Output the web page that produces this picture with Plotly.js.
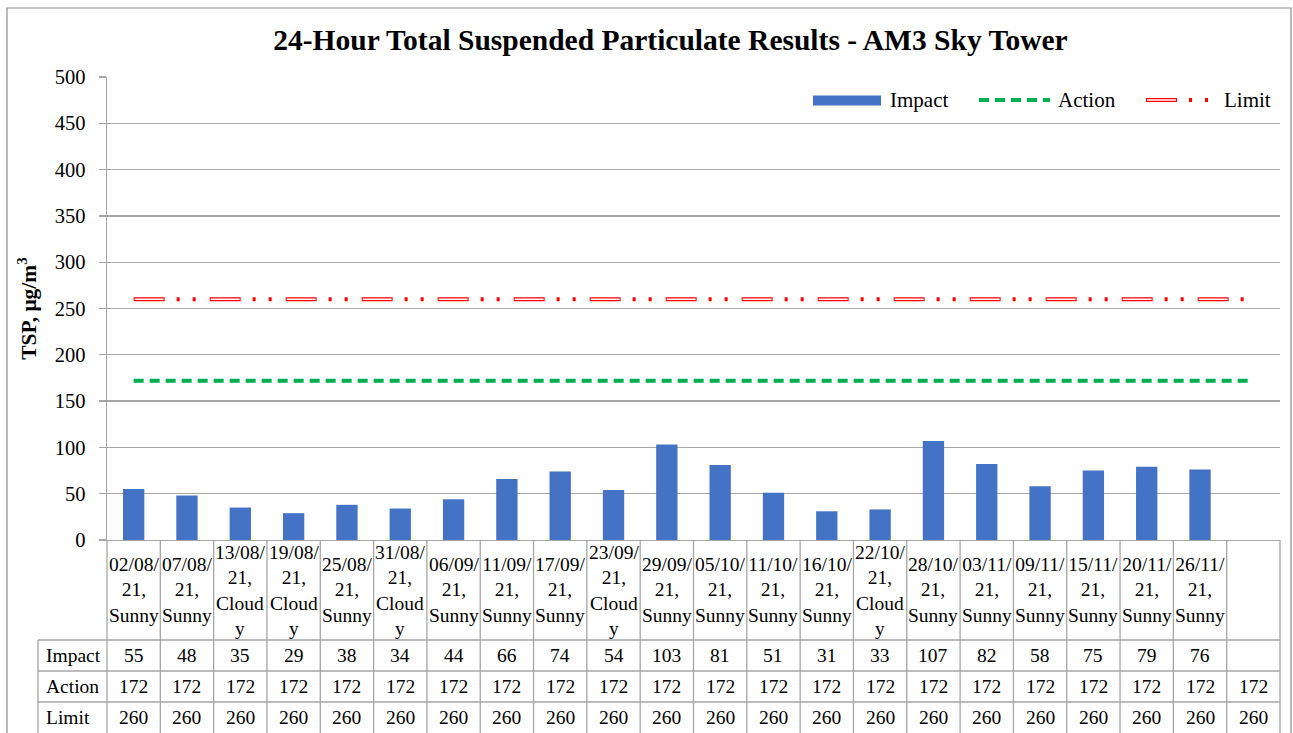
<!DOCTYPE html>
<html>
<head>
<meta charset="utf-8">
<script src="https://cdn.plot.ly/plotly-3.0.1.min.js"></script>
<style>
  html, body { margin: 0; padding: 0; background: #ffffff; }
  #chart { width: 1293px; height: 733px; }
</style>
</head>
<body>
<div id="chart"></div>
<script>
// ---------------- DATA ----------------
const categories = [
  '02/08/21, Sunny', '07/08/21, Sunny', '13/08/21, Cloudy', '19/08/21, Cloudy',
  '25/08/21, Sunny', '31/08/21, Cloudy', '06/09/21, Sunny', '11/09/21, Sunny',
  '17/09/21, Sunny', '23/09/21, Cloudy', '29/09/21, Sunny', '05/10/21, Sunny',
  '11/10/21, Sunny', '16/10/21, Sunny', '22/10/21, Cloudy', '28/10/21, Sunny',
  '03/11/21, Sunny', '09/11/21, Sunny', '15/11/21, Sunny', '20/11/21, Sunny',
  '26/11/21, Sunny', ''
];
const impact = [55, 48, 35, 29, 38, 34, 44, 66, 74, 54, 103, 81, 51, 31, 33, 107, 82, 58, 75, 79, 76, null];
const action = [172, 172, 172, 172, 172, 172, 172, 172, 172, 172, 172, 172, 172, 172, 172, 172, 172, 172, 172, 172, 172, 172];
const limit  = [260, 260, 260, 260, 260, 260, 260, 260, 260, 260, 260, 260, 260, 260, 260, 260, 260, 260, 260, 260, 260, 260];
const seriesNames = ['Impact', 'Action', 'Limit'];
const yTicks = [0, 50, 100, 150, 200, 250, 300, 350, 400, 450, 500];
const chartTitle = '24-Hour Total Suspended Particulate Results - AM3 Sky Tower';
const yTitle = 'TSP, μg/m<sup>3</sup>';

// ---------------- STYLE / LAYOUT ----------------
const W = 1293, H = 733;
const M = { l: 107, r: 13, t: 77, b: 193 };
const plotW = W - M.l - M.r, plotH = H - M.t - M.b;
const px2x = px => (px - M.l) / plotW;          // pixel -> paper x
const py2y = py => (H - M.b - py) / plotH;        // pixel -> paper y
const FONT = 'Liberation Serif, serif';
const GRID = '#A6A6A6';
const BLUE = '#4472C4', GREEN = '#00B050', RED = '#FF0000';
const LIMIT_DASH = '31px,12px,3px,13px,3px,14px';
const LIMIT_INNER = '0px,1px,29px,46px';

const idx = categories.map((c, i) => i);
const n = categories.length;

function wrapLabel(c) {
  if (!c) return '';
  const parts = c.split(', ');
  const d = parts[0], w = parts[1];
  const wl = w.length > 5 ? w.slice(0, 5) + '<br>' + w.slice(5) : w;
  return d.slice(0, 6) + '<br>' + d.slice(6) + ',<br>' + wl;
}

const traces = [
  { type: 'bar', x: idx, y: impact, name: seriesNames[0], marker: { color: BLUE }, showlegend: false, hoverinfo: 'y' },
  { type: 'scatter', mode: 'lines', x: idx, y: action, name: seriesNames[1], line: { color: GREEN, width: 4, dash: '10px,6px' }, showlegend: false },
  { type: 'scatter', mode: 'lines', x: idx, y: limit, name: seriesNames[2], line: { color: RED, width: 4, dash: LIMIT_DASH }, showlegend: false },
  { type: 'scatter', mode: 'lines', x: idx, y: limit, name: seriesNames[2], line: { color: '#ffffff', width: 1.4, dash: LIMIT_INNER }, showlegend: false, hoverinfo: 'skip' }
];

const shapes = [];
const annotations = [];
const lineStyle = { color: GRID, width: 1.3 };

// outer chart frame
shapes.push({ type: 'rect', xref: 'paper', yref: 'paper', x0: px2x(7), x1: px2x(1291), y0: py2y(760), y1: py2y(8), line: { color: '#8C8C8C', width: 1.2 }, layer: 'below' });

// table vertical lines (column boundaries)
for (let i = 0; i <= n; i++) {
  shapes.push({ type: 'line', xref: 'paper', yref: 'paper', x0: i / n, x1: i / n, y0: 0, y1: py2y(740), line: lineStyle });
}
// row label column left border
shapes.push({ type: 'line', xref: 'paper', yref: 'paper', x0: px2x(38), x1: px2x(38), y0: py2y(640), y1: py2y(740), line: lineStyle });
// row horizontal lines
[640, 671, 702].forEach(py => {
  shapes.push({ type: 'line', xref: 'paper', yref: 'paper', x0: px2x(38), x1: 1, y0: py2y(py), y1: py2y(py), line: lineStyle });
});

// category labels
categories.forEach((c, i) => {
  if (!c) return;
  annotations.push({ xref: 'x', yref: 'paper', x: i, y: py2y(590), text: wrapLabel(c), showarrow: false, xanchor: 'center', yanchor: 'middle', align: 'center', font: { family: FONT, size: 19.5, color: '#000' } });
});
// table rows
const rows = [[seriesNames[0], impact, 655.5], [seriesNames[1], action, 686.5], [seriesNames[2], limit, 717.5]];
rows.forEach(([label, vals, py]) => {
  annotations.push({ xref: 'paper', yref: 'paper', x: px2x(44), y: py2y(py), text: label, showarrow: false, xanchor: 'left', yanchor: 'middle', font: { family: FONT, size: 19.5, color: '#000' } });
  vals.forEach((v, i) => {
    if (v === null || v === undefined) return;
    annotations.push({ xref: 'x', yref: 'paper', x: i, y: py2y(py), text: String(v), showarrow: false, xanchor: 'center', yanchor: 'middle', font: { family: FONT, size: 19.5, color: '#000' } });
  });
});

// manual legend
const ly = py2y(100);
shapes.push({ type: 'rect', xref: 'paper', yref: 'paper', x0: px2x(813), x1: px2x(881), y0: py2y(105.5), y1: py2y(95.5), fillcolor: BLUE, line: { width: 0 } });
shapes.push({ type: 'line', xref: 'paper', yref: 'paper', x0: px2x(979), x1: px2x(1050), y0: ly, y1: ly, line: { color: GREEN, width: 4, dash: '10px,6px' } });
shapes.push({ type: 'line', xref: 'paper', yref: 'paper', x0: px2x(1146), x1: px2x(1209), y0: ly, y1: ly, line: { color: RED, width: 4, dash: LIMIT_DASH } });
shapes.push({ type: 'line', xref: 'paper', yref: 'paper', x0: px2x(1146), x1: px2x(1209), y0: ly, y1: ly, line: { color: '#ffffff', width: 1.4, dash: LIMIT_INNER } });
[[seriesNames[0], 888], [seriesNames[1], 1056], [seriesNames[2], 1222]].forEach(([t, px]) => {
  annotations.push({ xref: 'paper', yref: 'paper', x: px2x(px), y: ly, text: t, showarrow: false, xanchor: 'left', yanchor: 'middle', font: { family: FONT, size: 21, color: '#000' } });
});

const layout = {
  width: W, height: H,
  margin: M,
  paper_bgcolor: '#ffffff', plot_bgcolor: '#ffffff',
  font: { family: FONT, color: '#000' },
  title: { text: '<b>' + chartTitle + '</b>', xref: 'container', x: 670.5 / W, xanchor: 'center', yref: 'container', y: 1 - 40 / H, yanchor: 'middle', font: { family: FONT, size: 29.5, color: '#000' } },
  showlegend: false,
  bargap: 0.6,
  xaxis: { type: 'linear', range: [-0.5, n - 0.5], showticklabels: false, showgrid: false, zeroline: false, showline: true, linecolor: GRID, linewidth: 1.3, ticks: '', fixedrange: true },
  yaxis: {
    range: [0, 500], tickvals: yTicks, ticktext: yTicks.map(String),
    showgrid: true, gridcolor: GRID, gridwidth: 1.3, zeroline: false,
    showline: true, linecolor: GRID, linewidth: 1.3,
    ticks: 'outside', ticklen: 7, tickcolor: GRID, tickwidth: 1.3, ticklabelstandoff: 9,
    tickfont: { family: FONT, size: 20.5, color: '#000' },
    title: { text: '<b>' + yTitle + '</b>', font: { family: FONT, size: 21.5, color: '#000' }, standoff: 12 },
    fixedrange: true
  },
  shapes: shapes,
  annotations: annotations
};

Plotly.newPlot('chart', traces, layout, { displayModeBar: false, staticPlot: true });
</script>
</body>
</html>
